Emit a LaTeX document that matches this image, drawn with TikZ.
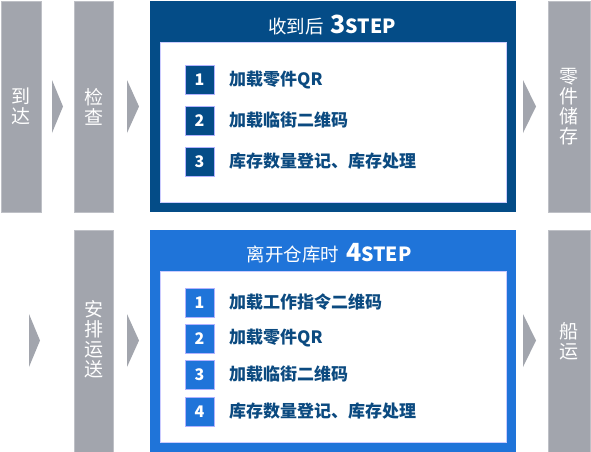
\documentclass[tikz,border=0pt]{standalone}
\usepackage{fontspec}
\newfontfamily\cjk{Noto Sans CJK SC}
\definecolor{navy}{HTML}{044C87}
\definecolor{brightblue}{HTML}{1F74D9}
\definecolor{barg}{HTML}{A2A5AD}
\definecolor{txtnavy}{HTML}{0B4A80}
\tikzset{
  bar/.style={fill=barg, draw=barg!70!white, line width=0.6pt, inner sep=0pt},
  bartext/.style={text=white, font=\cjk\fontsize{19}{20}\selectfont, align=center, inner sep=0pt},
  chev/.style={fill=barg},
  whitebox/.style={fill=white, draw=white!80!blue, line width=0.6pt, inner sep=0pt},
  numbox/.style={minimum width=29pt, minimum height=29pt, inner sep=0pt, text=white, font=\cjk\bfseries\fontsize{16}{16}\selectfont, draw=white!70!blue, line width=0.5pt},
  item/.style={anchor=west, inner sep=0pt, text=txtnavy, font=\cjk\bfseries\fontsize{17}{17}\selectfont},
  title/.style={inner sep=0pt, text=white, font=\cjk\fontsize{18.5}{18.5}\selectfont}
}
\newcommand{\stepword}[1]{\hspace{7pt}{\bfseries\fontsize{25}{25}\selectfont #1}{\bfseries\fontsize{19.5}{19.5}\selectfont STEP}}
\begin{document}
\begin{tikzpicture}[x=1pt,y=-1pt]
\useasboundingbox (0,0) rectangle (591,451);
\fill[white] (0,0) rectangle (591,451);
% top row bars
\path[bar] (1,1) rectangle (41,212);
\node[bartext] (arrive) at (21,106.5) {到\\达};
\path[bar] (74,1) rectangle (113,212);
\node[bartext] (check) at (93.5,106.5) {检\\查};
\path[bar] (548,1) rectangle (590,212);
\node[bartext] (store) at (569,106.5) {零\\件\\储\\存};
% top arrows
\fill[chev] (52,80) -- (63,106.5) -- (52,133) -- cycle;
\fill[chev] (127,80) -- (139,106.5) -- (127,133) -- cycle;
\fill[chev] (523,80) -- (536,106.5) -- (523,133) -- cycle;
% top big box
\fill[navy] (150,1) rectangle (516,212);
\path[whitebox] (160,42) rectangle (506,202);
\node[title] (t1) at (332,25) {收到后\stepword{3}};
\node[numbox, fill=navy] (a1) at (199.5,80) {1};
\node[numbox, fill=navy] (a2) at (199.5,120.5) {2};
\node[numbox, fill=navy] (a3) at (199.5,161.5) {3};
\node[item] (ai1) at (229,80) {加载零件QR};
\node[item] (ai2) at (229,120.5) {加载临街二维码};
\node[item] (ai3) at (229,161.5) {库存数量登记、库存处理};
% bottom row
\path[bar] (74,230) rectangle (113,452);
\node[bartext] (arrange) at (93.5,339) {安\\排\\运\\送};
\path[bar] (548,230) rectangle (590,452);
\node[bartext] (ship) at (569,341) {船\\运};
\fill[chev] (29,314) -- (40,340.5) -- (29,367) -- cycle;
\fill[chev] (127,314) -- (139,340.5) -- (127,367) -- cycle;
\fill[chev] (523,314) -- (536,340.5) -- (523,367) -- cycle;
\fill[brightblue] (150,230) rectangle (516,452);
\path[whitebox] (160,271) rectangle (506,442);
\node[title] (t2) at (329,253) {离开仓库时\stepword{4}};
\node[numbox, fill=brightblue] (b1) at (199.5,302.5) {1};
\node[numbox, fill=brightblue] (b2) at (199.5,338.5) {2};
\node[numbox, fill=brightblue] (b3) at (199.5,374.5) {3};
\node[numbox, fill=brightblue] (b4) at (199.5,411.5) {4};
\node[item] (bi1) at (229,302.5) {加载工作指令二维码};
\node[item] (bi2) at (229,338.5) {加载零件QR};
\node[item] (bi3) at (229,374.5) {加载临街二维码};
\node[item] (bi4) at (229,411.5) {库存数量登记、库存处理};
\end{tikzpicture}
\end{document}
